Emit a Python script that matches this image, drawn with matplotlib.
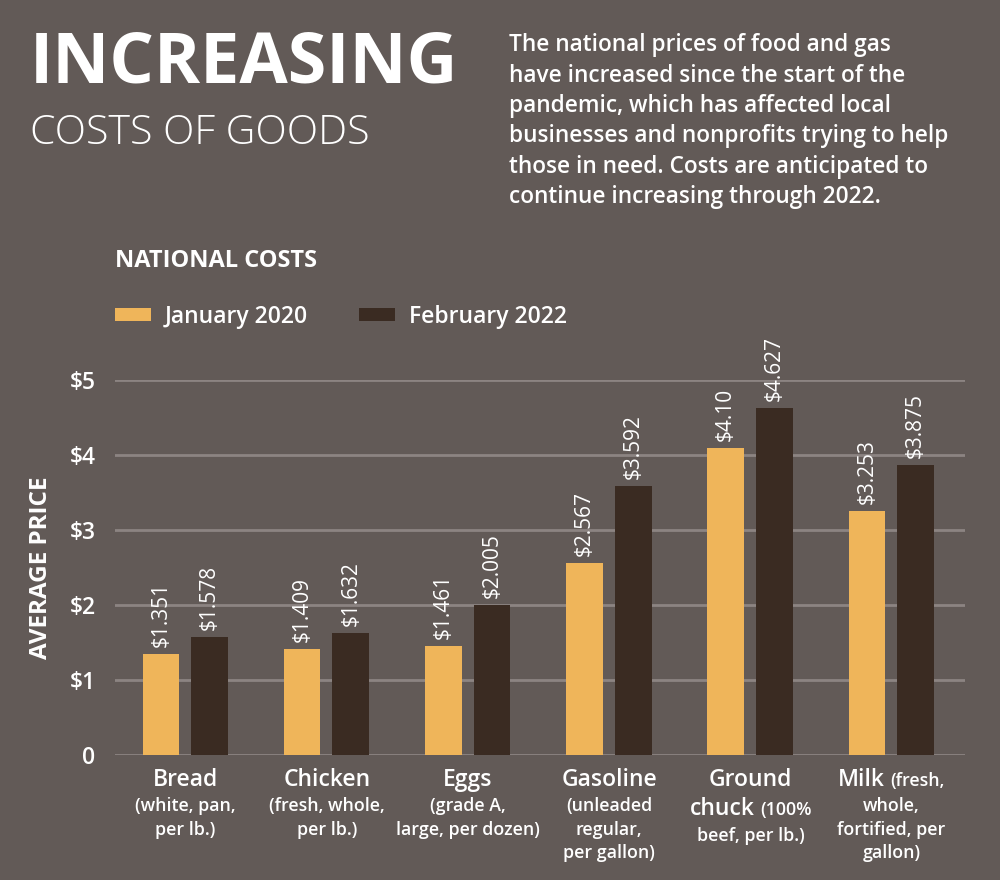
import matplotlib
matplotlib.use("Agg")
import matplotlib.pyplot as plt
from matplotlib.offsetbox import TextArea, HPacker, VPacker, AnnotationBbox
import numpy as np

# Data
jan_2020 = [1.351, 1.409, 1.461, 2.567, 4.10, 3.253]
feb_2022 = [1.578, 1.632, 2.005, 3.592, 4.627, 3.875]
jan_labels = ["$1.351", "$1.409", "$1.461", "$2.567", "$4.10", "$3.253"]
feb_labels = ["$1.578", "$1.632", "$2.005", "$3.592", "$4.627", "$3.875"]
# category labels: list of lines, each line a list of (text, is_big)
categories = [
    [[("Bread", True)], [("(white, pan,", False)], [("per lb.)", False)]],
    [[("Chicken", True)], [("(fresh, whole,", False)], [("per lb.)", False)]],
    [[("Eggs", True)], [("(grade A,", False)], [("large, per dozen)", False)]],
    [[("Gasoline", True)], [("(unleaded", False)], [("regular,", False)], [("per gallon)", False)]],
    [[("Ground", True)], [("chuck", True), ("(100%", False)], [("beef, per lb.)", False)]],
    [[("Milk", True), ("(fresh,", False)], [("whole,", False)], [("fortified, per", False)], [("gallon)", False)]],
]
y_ticks = [0, 1, 2, 3, 4, 5]
y_tick_labels = ["0", "$1", "$2", "$3", "$4", "$5"]

BG = "#625a57"
YELLOW = "#efb55a"
DARK = "#3a2b22"
GRID = "#8c8482"
FONT = "Open Sans"

plt.rcParams["font.family"] = [FONT, "DejaVu Sans"]

fig = plt.figure(figsize=(10, 8.8), dpi=100, facecolor=BG)
ax = fig.add_axes([0.115, 0.142, 0.85, 0.426], facecolor=BG)

x = np.arange(len(jan_2020))
w = 0.26
b1 = ax.bar(x - 0.175, jan_2020, w, color=YELLOW, label="January 2020", zorder=3)
b2 = ax.bar(x + 0.17, feb_2022, w, color=DARK, label="February 2022", zorder=3)

for bars, labels in [(b1, jan_labels), (b2, feb_labels)]:
    for rect, lab in zip(bars, labels):
        ax.annotate(lab, (rect.get_x() + rect.get_width() / 2, rect.get_height()),
                    xytext=(0, 5), textcoords="offset points", rotation=90,
                    ha="center", va="bottom", color="white", fontsize=15)

ax.set_ylim(0, 5)
ax.set_xlim(-0.5, 5.52)
ax.set_yticks(y_ticks)
ax.set_yticklabels(y_tick_labels, color="white", fontsize=16.5, fontweight="semibold")
ax.yaxis.grid(True, color=GRID, linewidth=2, zorder=0)
ax.tick_params(axis="y", length=0, pad=14)
ax.set_xticks([])
for s in ax.spines.values():
    s.set_visible(False)
ax.set_ylabel("AVERAGE PRICE", color="white", fontsize=17.5, fontweight="bold", labelpad=12)

# category labels under each group
for xi, lines in zip(x, categories):
    rows = []
    for line in lines:
        parts = [TextArea(t, textprops=dict(color="white", fontweight="semibold",
                                            fontsize=16.5 if big else 12.8))
                 for t, big in line]
        rows.append(HPacker(children=parts, align="baseline", pad=0, sep=4))
    box = VPacker(children=rows, align="center", pad=0, sep=4)
    ab = AnnotationBbox(box, (xi, 0), xybox=(0, -9), xycoords="data",
                        boxcoords="offset points", box_alignment=(0.5, 1.0),
                        frameon=False, annotation_clip=False)
    ax.add_artist(ab)

# titles
fig.text(0.03, 0.966, "INCREASING", color="white", fontsize=50.5, fontweight="bold",
         va="top", ha="left")
fig.text(0.03, 0.872, "COSTS OF GOODS", color="white", fontsize=29.5, fontweight="light",
         va="top", ha="left")
fig.text(0.509, 0.962,
         "The national prices of food and gas\n"
         "have increased since the start of the\n"
         "pandemic, which has affected local\n"
         "businesses and nonprofits trying to help\n"
         "those in need. Costs are anticipated to\n"
         "continue increasing through 2022.",
         color="white", fontsize=16.3, fontweight="semibold", va="top", ha="left",
         linespacing=1.35)
fig.text(0.115, 0.703, "NATIONAL COSTS", color="white", fontsize=17, fontweight="bold",
         va="center", ha="left")

leg = fig.legend(handles=[b1, b2], loc="center left", bbox_to_anchor=(0.094, 0.64),
                 ncol=2, frameon=False, handlelength=1.6, handleheight=0.45,
                 handletextpad=0.6, columnspacing=2.2,
                 prop=dict(size=16.5, weight="semibold"))
for t in leg.get_texts():
    t.set_color("white")

fig.savefig("out.png", facecolor=BG)
